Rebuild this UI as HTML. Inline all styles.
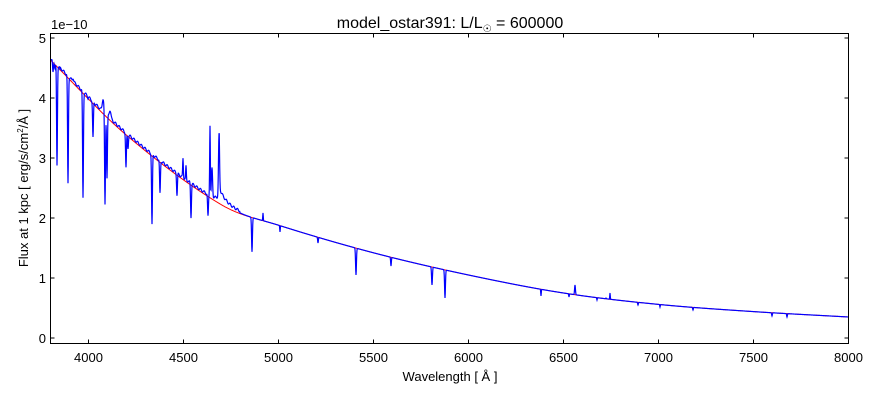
<!DOCTYPE html>
<html><head><meta charset="utf-8"><style>
body{margin:0;background:#fff;}
svg{display:block;font-family:"Liberation Sans","DejaVu Sans",sans-serif;}
</style></head><body>
<svg id="s" width="880" height="400" xmlns="http://www.w3.org/2000/svg">
<rect width="880" height="400" fill="#fff"/>
<text x="450" y="28" font-size="16" text-anchor="middle">model_ostar391: L/L<tspan font-size="10" dy="4">☉</tspan><tspan dy="-4"> = 600000</tspan></text>
<text x="51" y="29" font-size="13">1e−10</text>
<g id="plot"></g>
<rect x="50.5" y="33.5" width="798" height="310" fill="none" stroke="#000" stroke-width="1"/>
<g font-size="13" text-anchor="middle" id="xt"></g>
<g font-size="13" text-anchor="end" id="yt"></g>
<text x="450" y="381" font-size="13" text-anchor="middle">Wavelength [ Å ]</text>
<text transform="translate(28,188) rotate(-90)" font-size="13" text-anchor="middle">Flux at 1 kpc [ erg/s/cm<tspan font-size="8" dy="-5">2</tspan><tspan dy="5">/Å ]</tspan></text>
</svg>
<script>
var NS="http://www.w3.org/2000/svg";
function X(l){return 50.5+(l-3800)*0.19;}
function Y(v){return 338-60*v;}
var xt=document.getElementById('xt'),yt=document.getElementById('yt'),s=document.getElementById('s');
function el(t,a,p){var e=document.createElementNS(NS,t);for(var k in a)e.setAttribute(k,a[k]);(p||s).appendChild(e);return e;}
for(var l=4000;l<=8000;l+=500){var x=X(l);el('text',{x:x,y:362},xt).textContent=l;
 el('line',{x1:x,x2:x,y1:343.5,y2:339.5,stroke:'#000'});el('line',{x1:x,x2:x,y1:33.5,y2:37.5,stroke:'#000'});}
for(var v=0;v<=5;v++){var y=Y(v);el('text',{x:46,y:y+5},yt).textContent=v;
 el('line',{x1:50.5,x2:54.5,y1:y,y2:y,stroke:'#000'});el('line',{x1:848.5,x2:844.5,y1:y,y2:y,stroke:'#000'});}
var P=[[3800,4.63],[4200,3.38],[4700,2.22],[5000,1.88],[5500,1.42],[6000,1.05],[6500,0.75],[7000,0.56],[7500,0.44],[8000,0.35]];
function cont(l){for(var i=0;i<P.length-1;i++){if(l<=P[i+1][0]){var a=P[Math.max(0,i-1)],b=P[i],c=P[i+1],d=P[Math.min(P.length-1,i+2)];
 var t=(l-b[0])/(c[0]-b[0]);var m1=(c[1]-a[1])/(c[0]-a[0])*(c[0]-b[0]),m2=(d[1]-b[1])/(d[0]-b[0])*(c[0]-b[0]);
 var t2=t*t,t3=t2*t;return (2*t3-3*t2+1)*b[1]+(t3-2*t2+t)*m1+(-2*t3+3*t2)*c[1]+(t3-t2)*m2;}}return P[P.length-1][1];}
var L=[[53,75,1],[55,70,1],[57,168,1],[68,186,1],[73,80,1.2],[83,200,1],[93,140,1],[105,208,1],[107,180,1],[126,170,1],[128,150,1],
[152,227,1],[160,196,1],[177,197,1],[186,185,1],[191,219,1],[208,219,1],[212,215,1],[252,252,1],[356,275,1],[432,285,1],[445,298,1],[391,266,0.8],[318,243,0.8],[638,305,0.8],[772,316,0.8],[787,317,0.8],[693,310,0.8],[60,72,0.6],[88,100,0.6],[597,300,0.6],[606,298,0.6],[569,297,0.6],[541,296,0.6],[280,232,0.6],[660,307,0.6]];
var E=[[103,101,2],[110,112,2],[210,127,0.8],[212,155,1.2],[219,143,1.2],[575,285,1],[183,160,0.8],[186,165,0.8],[263,213,0.6],[610,293,0.6]];
var pts=[],rp=[];
for(var x=50.5;x<=848.5;x+=0.25){var l=3800+(x-50.5)/0.19;var c=Y(cont(l));var y=c;
 rp.push(x.toFixed(2)+','+c.toFixed(2));
 var dx=x-219; if(dx>0) y-=14*Math.exp(-dx/7); else y-=6*Math.exp(dx/3);
 if(x<240) y-=2+Math.sin(x*1.7)*1.2;
 var base=y,emin=0;
 for(var i=0;i<L.length;i++){var g=Math.exp(-Math.pow((x-L[i][0])/(L[i][2]*0.6),2));y+= (L[i][1]-c)*g;}
 for(var i=0;i<E.length;i++){var g=Math.exp(-Math.pow((x-E[i][0])/(E[i][2]*0.6),2));var d=(E[i][1]-c)*g;if(d<emin)emin=d;}
 y+=emin;
 pts.push(x.toFixed(2)+','+y.toFixed(2));}
var g=document.getElementById('plot');
el('polyline',{points:rp.join(' '),fill:'none',stroke:'#f00','stroke-width':1},g);
el('polyline',{points:pts.join(' '),fill:'none',stroke:'#00f','stroke-width':1.2},g);
</script>
</body></html>
